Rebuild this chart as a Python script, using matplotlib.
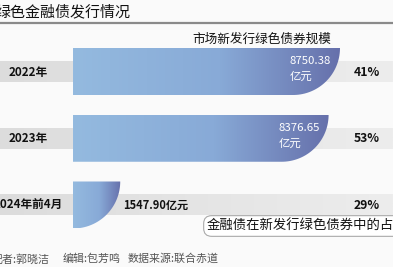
import numpy as np
import matplotlib.pyplot as plt
from matplotlib.patches import PathPatch
from matplotlib.path import Path
from matplotlib.colors import LinearSegmentedColormap

plt.rcParams['font.family'] = ['Noto Sans CJK SC', 'DejaVu Sans']

title = "绿色金融债发行情况"
subtitle = "市场新发行绿色债券规模"
periods = ["2022年", "2023年", "2024年前4月"]
scale = [8750.38, 8376.65, 1547.90]   # 亿元
share = ["41%", "53%", "29%"]
legend_text = "金融债在新发行绿色债券中的占比"
footer = ["记者:郭晓洁", "编辑:包芳鸣", "数据来源:联合赤道"]

W, H = 393, 267
fig = plt.figure(figsize=(W / 100, H / 100), dpi=100, facecolor="#fafafa")
ax = fig.add_axes([0, 0, 1, 1])
ax.set_facecolor("#fafafa")
ax.axis("off")

# value axis: 0 sits at px 73, max value reaches px 340
x0_px, xmax_px = 73, 340
upp = max(scale) / (xmax_px - x0_px)          # value units per pixel
row_px, first_px = 66.75, 71.5
ax.set_xlim(-x0_px * upp, (W - x0_px) * upp)
ax.set_ylim((H - first_px) / row_px, -first_px / row_px)

bar_h = 47 / row_px
band_h = 21 / row_px
cmap = LinearSegmentedColormap.from_list(
    "bar", [(0, "#94badf"), (0.55, "#88aad7"), (1, "#6670ab")])
band_cmap = LinearSegmentedColormap.from_list("band", ["#dcdcdc", "#ededed"])
grad = np.linspace(0, 1, 256).reshape(1, -1)

for i, (lab, v, s) in enumerate(zip(periods, scale, share)):
    # grey band behind the row
    ax.imshow(grad, cmap=band_cmap, aspect="auto", zorder=1,
              extent=(ax.get_xlim()[0], ax.get_xlim()[1], i + band_h / 2, i - band_h / 2))

    # bar with a quarter-round bottom-right end
    top, bot = i - bar_h / 2, i + bar_h / 2
    rx = min(v, 47 * upp)
    th = np.linspace(0, np.pi / 2, 40)
    arc = np.column_stack([v - rx + rx * np.cos(th), top + bar_h * np.sin(th)])
    verts = np.vstack([[0, top], arc, [0, bot], [0, top]])
    patch = PathPatch(Path(verts, closed=True), facecolor="none", edgecolor="none", zorder=2)
    ax.add_patch(patch)
    im = ax.imshow(grad, cmap=cmap, aspect="auto", zorder=2,
                   extent=(0, v, bot, top))
    im.set_clip_path(patch)

    ax.text((28 - x0_px) * upp, i + 0.01, lab, ha="center", va="center",
            fontsize=8.4, fontweight="bold", color="#111111", zorder=3)
    ax.text((367 - x0_px) * upp, i + 0.01, s, ha="center", va="center",
            fontsize=8.8, fontweight="bold", color="#111111", zorder=3)

    if v > 3000:
        ax.text(v - 50 * upp, i - 0.15, f"{v:.2f}", ha="left", va="center",
                fontsize=8.2, fontweight="medium", color="white", zorder=3)
        ax.text(v - 50 * upp, i + 0.08, "亿元", ha="left", va="center",
                fontsize=8.2, fontweight="medium", color="white", zorder=3)
    else:
        ax.text(v + 3 * upp, i + 0.01, f"{v:.2f}亿元", ha="left", va="center",
                fontsize=8, fontweight="bold", color="#111111", zorder=3)

# title, rule, subtitle, legend, footer
fig.text(-4 / W, 1 - 12 / H, title, ha="left", va="center", fontsize=10.8,
         fontweight="medium", color="#111111")
ax.add_line(plt.Line2D([0, 1], [1 - 23 / H, 1 - 23 / H], transform=fig.transFigure,
                       color="#8a8a8a", lw=1.6))
fig.text(262 / W, 1 - 39 / H, subtitle, ha="center", va="center", fontsize=9.1,
         color="#111111")
fig.text(207 / W, 1 - 226 / H, legend_text, ha="left", va="center", fontsize=9.6,
         color="#111111",
         bbox=dict(boxstyle="round,pad=0.25,rounding_size=0.6", fc="white",
                   ec="#aaaaaa", lw=0.8))
for txt, xp in zip(footer, [-8, 63, 128]):
    fig.text(xp / W, 1 - 259 / H, txt, ha="left", va="center", fontsize=7.9,
             color="#555555")

fig.savefig("out.png", dpi=100, facecolor=fig.get_facecolor())
